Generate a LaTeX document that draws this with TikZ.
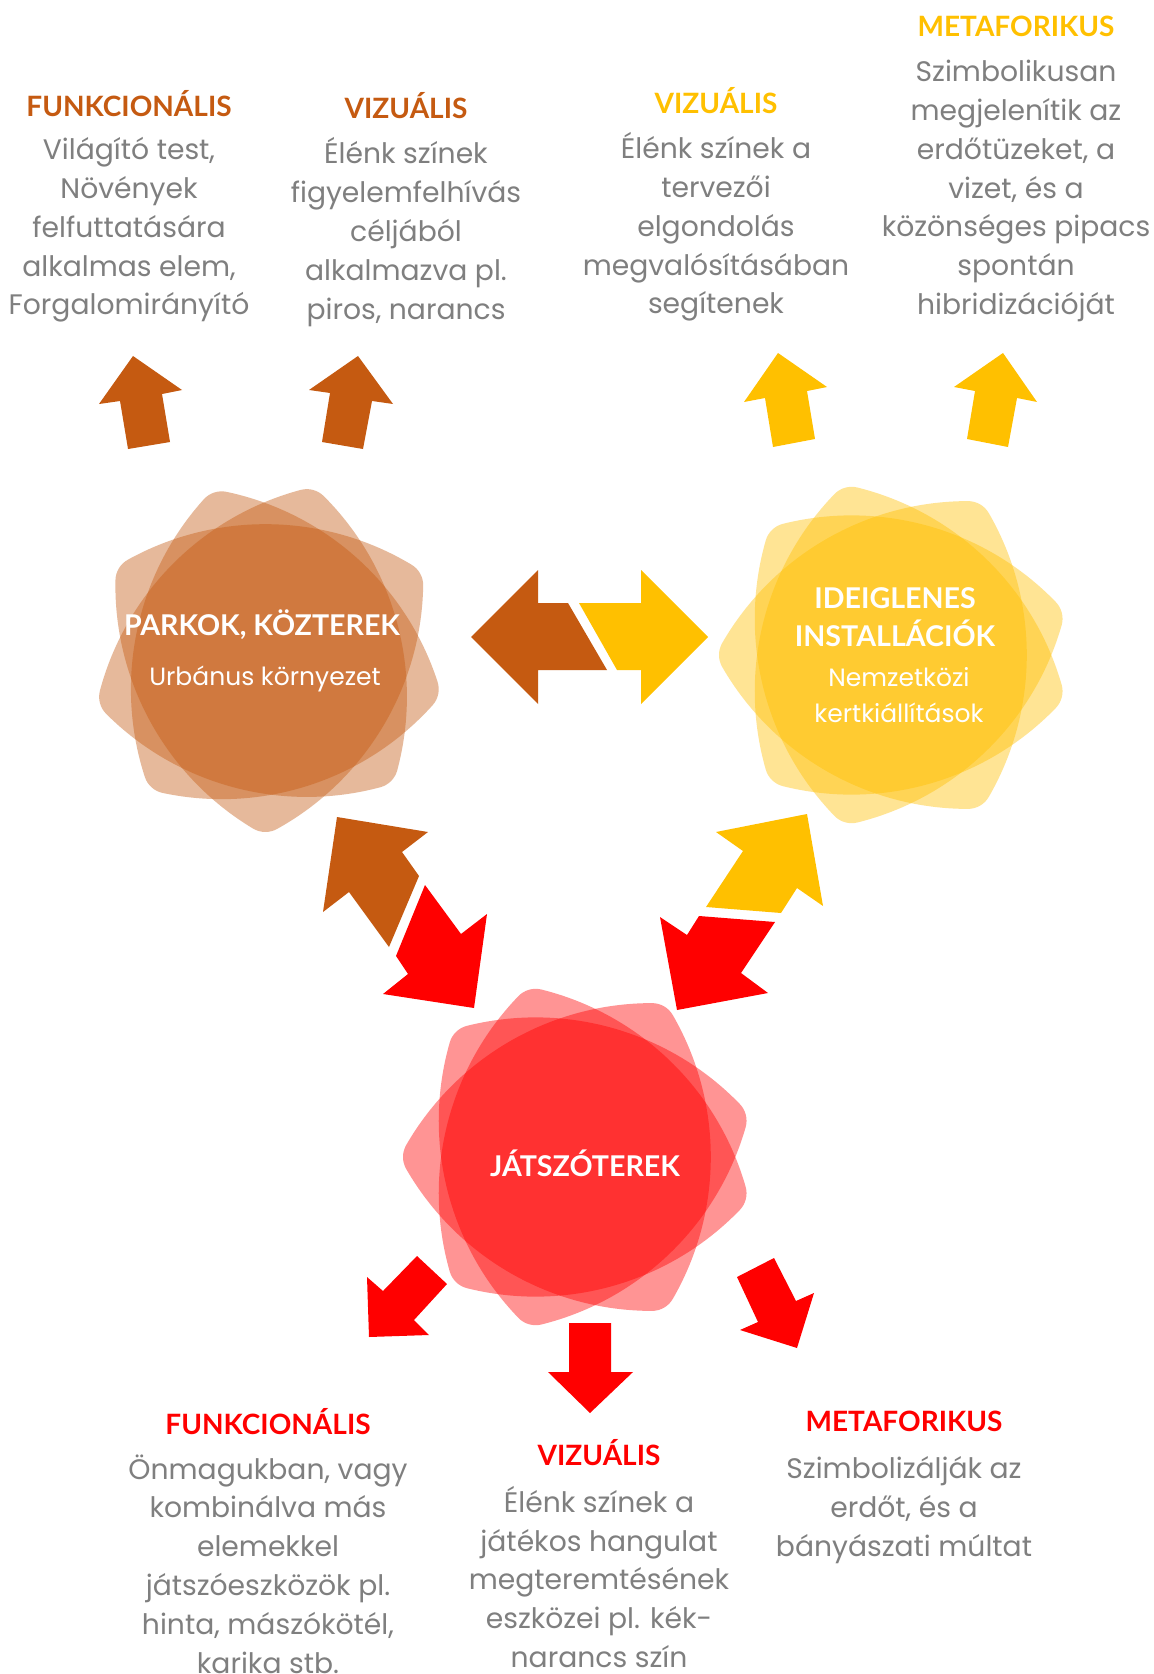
\documentclass[tikz,border=0pt]{standalone}
\usepackage{fontspec}
\setmainfont{Poppins}
\newfontfamily\headfont{Lato}
\definecolor{brownhead}{HTML}{C55A11}
\definecolor{yellowhead}{HTML}{FFC000}
\definecolor{redhead}{HTML}{FF0000}
\definecolor{bodygray}{HTML}{7F7F7F}
\tikzset{
  head/.style={inner sep=0pt, font=\headfont\bfseries\fontsize{14}{16}\selectfont},
  body/.style={text=bodygray, align=center, inner sep=0pt, font=\fontsize{14.1}{19.4}\selectfont},
  blobtitle/.style={text=white, align=center, inner sep=0pt, font=\headfont\bfseries\fontsize{14.3}{19}\selectfont},
  blobsub/.style={text=white, align=center, inner sep=0pt, font=\fontsize{12.5}{18}\selectfont},
  petal/.pic={
    \fill[#1, fill opacity=.42] (12,170.78)
      arc[start angle=60, end angle=120, radius=24]
      arc[start angle=120, end angle=180, radius=283.8]
      arc[start angle=180, end angle=240, radius=24]
      arc[start angle=240, end angle=300, radius=283.8]
      arc[start angle=300, end angle=360, radius=24]
      arc[start angle=0, end angle=60, radius=283.8] -- cycle;
  }
}

\begin{document}
\begin{tikzpicture}[x=0.5pt,y=-0.5pt]
\useasboundingbox (0,0) rectangle (1154,1674);
\fill[white] (0,0) rectangle (1154,1674);

% Blobs
\coordinate (parkc) at (268,658);
\coordinate (instc) at (893,655);
\coordinate (jatszc) at (577,1157);
\foreach \r in {-1,45,78} \pic[rotate=\r] at (parkc) {petal=brownhead};
\foreach \r in {-16,30,76} \pic[rotate=\r] at (instc) {petal=yellowhead};
\foreach \r in {-16,30,76} \pic[rotate=\r] at (jatszc) {petal=redhead};

\node[blobtitle] (parkok) at (262,625) {PARKOK, KÖZTEREK};
\node[blobsub] (urban) at (265,679) {Urbánus környezet};
\node[blobtitle] (install) at (895,617) {IDEIGLENES\\INSTALLÁCIÓK};
\node[blobsub] (kert) at (899,695) {Nemzetközi\\kertkiállítások};
\node[blobtitle] (jatszo) at (585,1163) {JÁTSZÓTEREK};

% Top texts
\node[head, text=brownhead] (fa) at (129,104) {FUNKCIONÁLIS};
\node[body] (fab) at (129,230) {Világító test,\\Növények\\felfuttatására\\alkalmas elem,\\Forgalomirányító};
\node[head, text=brownhead] (va) at (406,106) {VIZUÁLIS};
\node[body] (vab) at (406,232) {Élénk színek\\figyelemfelhívás\\céljából\\alkalmazva pl.\\piros, narancs};
\node[head, text=yellowhead] (vb) at (716,101) {VIZUÁLIS};
\node[body] (vbb) at (716,227) {Élénk színek a\\tervezői\\elgondolás\\megvalósításában\\segítenek};
\node[head, text=yellowhead] (ma) at (1016,26) {METAFORIKUS};
\node[body] (mab) at (1016,191) {Szimbolikusan\\megjelenítik az\\erdőtüzeket, a\\vizet, és a\\közönséges pipacs\\spontán\\hibridizációját};

% Top arrows
\fill[brownhead] (133,356) -- (182,390) -- (162,394) -- (170,442) -- (128,449) -- (120,401) -- (99,404) -- cycle;
\fill[brownhead] (358,356) -- (393,404) -- (372,401) -- (363,449) -- (322,442) -- (330,393) -- (309,390) -- cycle;
\fill[yellowhead] (778,353) -- (827,387) -- (807,391) -- (815,439) -- (773,447) -- (765,398) -- (744,402) -- cycle;
\fill[yellowhead] (1003,353) -- (1037,402) -- (1017,398) -- (1008,447) -- (967,439) -- (975,391) -- (954,387) -- cycle;

% Split arrows between the blobs
\fill[brownhead] (471,637) -- (538,570) -- (538,603) -- (568,603) -- (607,670) -- (538,670) -- (538,704) -- cycle;
\fill[yellowhead] (708,637) -- (641,570) -- (641,603) -- (579,603) -- (617,670) -- (641,670) -- (641,704) -- cycle;
\fill[brownhead] (337,817) -- (428,832) -- (402,852) -- (419,876) -- (389,947) -- (349,892) -- (323,912) -- cycle;
\fill[redhead] (474,1008) -- (383,994) -- (408,974) -- (396,956) -- (425,885) -- (461,934) -- (487,914) -- cycle;
\fill[yellowhead] (807,814) -- (823,906) -- (797,888) -- (781,913) -- (706,907) -- (743,851) -- (716,832) -- cycle;
\fill[redhead] (677,1010) -- (660,917) -- (687,935) -- (699,916) -- (775,922) -- (741,973) -- (768,993) -- cycle;

% Bottom arrows
\fill[redhead] (369,1337) -- (367,1277) -- (383,1291) -- (417,1256) -- (447,1284) -- (414,1320) -- (429,1335) -- cycle;
\fill[redhead] (569,1323) -- (611,1323) -- (611,1372) -- (633,1372) -- (590,1413) -- (548,1372) -- (569,1372) -- cycle;
\fill[redhead] (797,1348) -- (740,1330) -- (758,1322) -- (737,1277) -- (774,1258) -- (796,1301) -- (814,1293) -- cycle;

% Bottom texts
\node[head, text=redhead] (fj) at (268,1422) {FUNKCIONÁLIS};
\node[body, anchor=north] (fjb) at (268,1454) {Önmagukban, vagy\\kombinálva más\\elemekkel\\játszóeszközök pl.\\hinta, mászókötél,\\karika stb.};
\node[head, text=redhead] (vj) at (599,1453) {VIZUÁLIS};
\node[body] (vjb) at (599,1577) {Élénk színek a\\játékos hangulat\\megteremtésének\\eszközei pl. kék-\\narancs szín};
\node[head, text=redhead] (mj) at (904,1421) {METAFORIKUS};
\node[body] (mjb) at (904,1510) {Szimbolizálják az\\erdőt, és a\\bányászati múltat};

\end{tikzpicture}
\end{document}
